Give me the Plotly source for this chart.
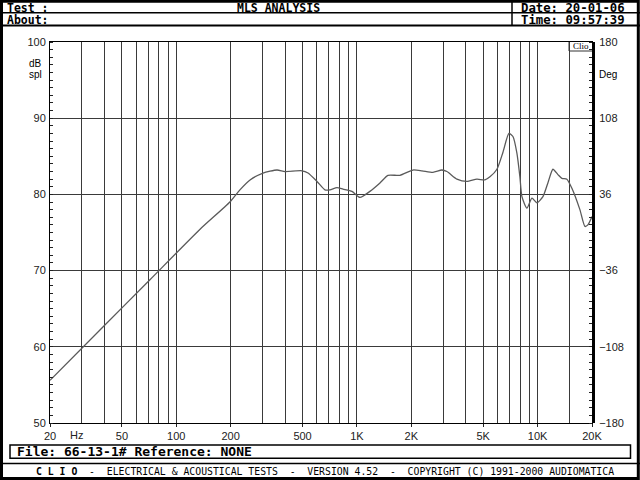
import plotly.graph_objects as go

# ---- data ----
freq_hz = [20, 37.8, 71.5, 135, 198, 225, 256, 302, 361, 400, 496, 536, 601, 665, 709,
           775, 837, 938, 1039, 1180, 1341, 1485, 1730, 2041, 2290, 2634, 2954, 3148,
           3576, 4062, 4614, 5110, 5446, 5954, 6424, 6937, 7302, 7682, 7980, 8188,
           8726, 9300, 9912, 10700, 11400, 12150, 12950, 13630, 14520, 15480, 17140,
           18270, 18980, 20000]
spl_db = [55.6, 62.2, 68.8, 75.4, 79.0, 80.6, 81.9, 82.8, 83.2, 83.0, 83.1, 82.8, 81.7,
          80.6, 80.6, 80.9, 80.7, 80.4, 79.6, 80.4, 81.5, 82.5, 82.5, 83.2, 83.1, 82.9,
          83.2, 83.0, 82.0, 81.7, 82.0, 81.9, 82.3, 83.3, 85.5, 88.0, 87.6, 85.4, 82.3,
          79.7, 78.2, 79.5, 78.9, 79.7, 81.5, 83.3, 82.6, 82.1, 82.0, 80.8, 78.0, 75.8,
          76.0, 77.1]

x_tick_vals = [20, 50, 100, 200, 500, 1000, 2000, 5000, 10000, 20000]
x_tick_text = ["20", "50", "100", "200", "500", "1K", "2K", "5K", "10K", "20K"]
x_grid_vals = [30, 40, 50, 60, 70, 80, 90, 100, 200, 300, 400, 500, 600, 700, 800, 900,
               1000, 2000, 3000, 4000, 5000, 6000, 7000, 8000, 9000, 10000, 15000]
y_tick_vals = [50, 60, 70, 80, 90, 100]
deg_tick_vals = [-180, -108, -36, 36, 108, 180]

# ---- layout geometry (pixels) ----
W, H = 640, 480
L, R, T, B = 50, 592, 42, 423
PW, PH = R - L, B - T


def px(x):
    return (x - L) / PW


def py(y):
    return (B - y) / PH


fig = go.Figure()
fig.add_trace(go.Scatter(x=freq_hz, y=spl_db, mode="lines",
                         line=dict(color="#5a5a5a", width=1.3, shape="spline", smoothing=0.6),
                         hoverinfo="skip", showlegend=False))
fig.add_trace(go.Scatter(x=[20], y=[0], yaxis="y2", mode="markers",
                         marker=dict(opacity=0), hoverinfo="skip", showlegend=False))

grid_col = "#3a3a3a"
tick_font = dict(family="Liberation Sans", size=11, color="#222")

fig.update_layout(
    width=W, height=H,
    margin=dict(l=L, r=W - R, t=T, b=H - B),
    paper_bgcolor="white", plot_bgcolor="white",
    xaxis=dict(type="log", range=[1.30103, 4.30103],
               tickvals=x_tick_vals, ticktext=x_tick_text,
               showgrid=False, ticks="outside", ticklen=3, tickcolor="#222",
               tickfont=tick_font, showline=True, linecolor="black", linewidth=1,
               mirror=True, zeroline=False,
               minor=dict(tickvals=x_grid_vals, showgrid=True, gridcolor=grid_col,
                          gridwidth=1, ticks="")),
    yaxis=dict(range=[50, 100], tickvals=y_tick_vals, showgrid=True,
               gridcolor=grid_col, gridwidth=1, zeroline=False,
               ticks="", tickfont=tick_font, ticklabelstandoff=1,
               showline=True, linecolor="black", linewidth=1, mirror=True,
               minor=dict(dtick=1, ticks="inside", ticklen=3, tickcolor="#222",
                          showgrid=False)),
    yaxis2=dict(overlaying="y", side="right", range=[-180, 180],
                tickvals=deg_tick_vals, showgrid=False, zeroline=False,
                ticks="", tickfont=tick_font, ticklabelstandoff=2,
                showline=True, linecolor="black", linewidth=3,
                minor=dict(dtick=7.2, tick0=0, ticks="inside", ticklen=3,
                           tickcolor="#222", showgrid=False)),
)

shapes = []


def line(x0, y0, x1, y1, w=1.5, c="black"):
    shapes.append(dict(type="line", xref="paper", yref="paper",
                       x0=px(x0), y0=py(y0), x1=px(x1), y1=py(y1),
                       line=dict(color=c, width=w)))


def rect(x0, y0, x1, y1, w=1.5, c="black"):
    shapes.append(dict(type="rect", xref="paper", yref="paper",
                       x0=px(x0), y0=py(y0), x1=px(x1), y1=py(y1),
                       line=dict(color=c, width=w), fillcolor="rgba(0,0,0,0)"))


# outer frame
rect(1.5, 1.2, 638.3, 478.5, w=3)
# header
line(0, 12.7, 640, 12.7, w=1.5)
line(0, 25.5, 640, 25.5, w=2)
line(512, 0, 512, 25.5, w=1.5)
# file box and footer separator
rect(10, 445, 630.5, 458.3, w=1.5)
line(0, 463.5, 640, 463.5, w=1.5)
# Clio box
line(569, 42, 569, 51, w=1, c="#333")
line(569, 51, 592, 51, w=1, c="#333")

fig.update_layout(shapes=shapes)

mono = "DejaVu Sans Mono"


def text(x, y, s, size=11, anchor="left", bold=False, family=mono, color="black", pad=1):
    fig.add_annotation(xref="paper", yref="paper", x=px(x), y=py(y),
                       text=("<b>%s</b>" % s) if bold else s, showarrow=False,
                       xanchor=anchor, yanchor="middle", borderpad=pad,
                       font=dict(family=family, size=size, color=color))


text(6, 7.6, "Test :", size=11.5, bold=True, pad=0)
text(6, 19.6, "About:", size=11.5, bold=True, pad=0)
text(278, 7.6, "MLS ANALYSIS", size=11.5, bold=True, anchor="center", pad=0)
text(520, 7.6, "Date: 20-01-06", size=12.3, bold=True, pad=0)
text(520, 19.6, "Time: 09:57:39", size=12.3, bold=True, pad=0)

text(27, 64, "dB", size=10, family="Liberation Sans")
text(27, 74, "spl", size=10, family="Liberation Sans")
text(597, 74, "Deg", size=10, family="Liberation Sans")
text(580.5, 46.5, "Clio", size=9, family="Liberation Serif", anchor="center")
text(76, 435, "Hz", size=11, family="Liberation Sans", anchor="center", color="#222")

text(15, 451.7, "File: 66-13-1# Reference: NONE", size=13, bold=True)
text(325, 471.5,
     "<b>C L I O</b>  -  ELECTRICAL &amp; ACOUSTICAL TESTS  -  VERSION 4.52  -  "
     "COPYRIGHT (C) 1991-2000 AUDIOMATICA",
     size=9.8, anchor="center")

fig.write_html("out.html",
               config={"displayModeBar": False, "staticPlot": True},
               post_script="document.body.style.margin='0px';"
                           "document.body.style.overflow='hidden';")
